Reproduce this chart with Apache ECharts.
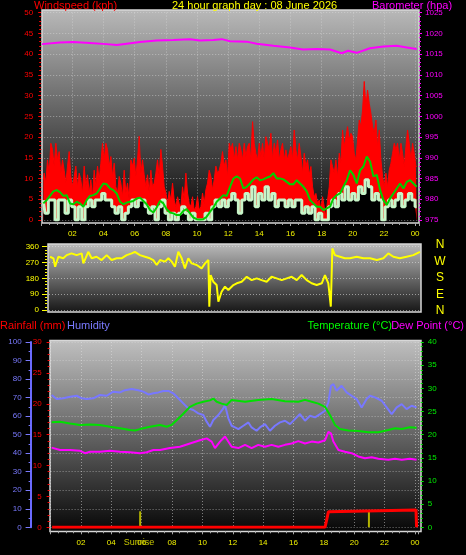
<!DOCTYPE html>
<html><head><meta charset="utf-8">
<script src="https://cdn.jsdelivr.net/npm/echarts@6/dist/echarts.min.js"></script>
<style>html,body{margin:0;padding:0;background:#000;}#c{width:466px;height:555px;}</style>
</head><body><div id="c"></div>
<script>
// ---------------- DATA ----------------
const titleText = '24 hour graph day : 08 June 2026';
const hourLabels = ['02','04','06','08','10','12','14','16','18','20','22','00'];
const compassLabels = ['N','W','S','E','N'];

// wind readings (kph), regular samples starting at windStartHour
const windStartHour = 0.137;
const gustStepHour = 0.107;
const gustKph = [9.7,11.3,8.9,14.5,11.3,18.5,17,13,18.5,14.5,
16.5,11.3,14.5,12,8.9,13,16.5,10.5,8,10.5,
13,8,11.3,9.7,6.5,13,8,10.9,6.5,9.7,
5.6,12,8,13,9.7,13.7,18.5,14.5,18.5,17,
13,15.3,10.5,13.7,8,6.5,10.5,8.9,5.6,12,
6.5,8.9,4.8,14.5,13,14.9,10.5,14.5,20.2,11.3,
14.5,10.9,8,10.9,6.5,12,8,8.9,11.3,14.5,
10.5,17,13,8,6.5,4,6.9,4.8,8.9,4.8,
3.2,5.6,4,3.2,8,4.8,11.3,6.5,4,3.2,
5.6,2.4,3.2,5.6,2.4,3.2,6.5,4,7.3,8.9,
12,10.5,7.3,9.7,13,11.3,12,
13.7,16.5,13,14.5,10.5,18.5,17,18.5,14.5,17.7,
14.5,18.5,17,14.5,18.5,15.3,17.7,18.5,14.5,23.7,
18.5,16.1,14.5,18.5,15.3,18.5,14.5,20.1,18.5,16.9,
20.9,14.5,18.5,16.1,19.3,14.5,16.9,18.5,14.5,16.9,
14.5,16.1,17.7,14.5,21.7,16.9,14.5,18.5,15.3,11.3,
16.1,12.9,14.5,10.9,12.9,8,5.6,6.4,4,4.8,
2.4,5.6,3.2,0.8,4.8,8,14.5,12.9,11.3,14.5,
10.5,16.1,13.7,21.7,17.7,20.1,22.5,19.3,20.9,20.1,
16.1,14.5,19.3,24.1,22.5,26.5,33.4,27.3,31.3,28.1,
25.7,22.5,20.9,24.1,17.7,21.7,14.5,10.5,8,11.3,
8,12,13.7,16.1,18.5,16.9,18.5,14.5,18.5,16.1,
12.9,17.7,21.7,18.5,14.5,18.5,16.1,12.9];

const speedStepHour = 0.214;
const speedKph = [4.8,1.6,4.8,4.8,0,4.8,4.8,1.6,4.8,3.2,
0,3.2,0,3.2,4.8,3.2,4.8,4.8,6.4,4.8,
4.8,3.2,1.6,3.2,0,1.6,3.2,4.8,3.2,4.8,
4.8,3.2,1.6,3.2,0,3.2,4.8,1.6,0,1.6,
0,1.6,3.2,1.6,0,1.6,0,0,0,1.6,
0,3.2,4.8,3.2,
4.8,3.2,4.8,6.4,4.8,1.6,4.8,6.4,4.8,8,
3.2,6.4,4.8,8,4.8,6.4,3.2,4.8,4.8,3.2,
4.8,3.2,4.8,4.8,1.6,3.2,1.6,3.2,0,1.6,
0,0,3.2,4.8,3.2,6.4,4.8,8,4.8,6.4,
4.8,8,6.4,9.7,8,4.8,6.4,4.8,0,3.2,
4.8,3.2,4.8,6.4,3.2,4.8,6.4,4.8,3.2];

const avgKph = [4,4.8,5.8,6.9,7.2,6.7,5.8,6,4,3.8,
4.4,4,3.2,4.8,5.8,6,6.4,7.6,8.8,8.6,
7.6,7.2,6.4,4.4,3.8,4.2,4.4,4.6,5.2,5.4,
4.6,3.8,2.4,1.8,3,4.6,4,2.6,1.8,1.6,
1.2,1.2,2.2,2.6,1.6,0.6,0.2,0.1,0.2,0.8,
2,3,4.4,5.2,
6,5.8,8,10,10.5,10,7.6,8,8.8,9.8,
10.3,9.6,9.8,10.2,10.5,11.3,10,10,9.8,9.2,
8.6,8.6,9.6,8.8,8,6.9,4.8,4,3.2,3.2,
2.4,2.8,3.2,5.2,6,6.4,8,9.6,12,10.9,
8.8,12,12.9,15.3,14.1,10.5,10.9,7.2,4.8,3.6,
5.2,6.4,7.6,8.8,7.6,9.2,9.6,8.8,8];

// barometer [hour, hPa]
const barometer = [[0.05,1017.4],[1.2,1017.8],[2.05,1017.9],[3.13,1017.7],[4.2,1017.4],[4.85,1017.2],[5.49,1017.5],[6.34,1017.9],[7.41,1018.3],[8.48,1018.4],[9.55,1018.6],[10.19,1018.3],[11.05,1018.4],[11.59,1018.6],[12.12,1018.1],[13.19,1018.0],[13.83,1017.5],[14.9,1017.0],[15.97,1016.6],[16.8,1016.1],[17.7,1016.2],[18.54,1016.1],[19.29,1015.2],[19.7,1015.8],[20.25,1015.3],[21.1,1016.4],[21.96,1016.8],[22.82,1017.0],[23.46,1016.6],[24.1,1016.2]];

// wind direction [hour, degrees]
const windDir = [[0.07,303],[0.29,294],[0.40,246],[0.61,303],[0.93,294],[1.15,312],[1.47,322],[1.80,312],[2.13,322],[2.24,265],[2.56,331],[2.78,294],[3.10,303],[3.43,284],[3.76,312],[4.08,284],[4.41,294],[4.73,294],[5.06,312],[5.39,322],[5.60,331],[5.93,312],[6.26,303],[6.58,294],[6.80,284],[7.02,256],[7.24,284],[7.56,275],[7.78,294],[8.0,275],[8.21,246],[8.43,331],[8.65,294],[8.86,237],[9.08,294],[9.30,265],[9.63,256],[9.95,237],[10.17,265],[10.39,284],[10.45,19],[10.54,199],[10.71,161],[10.93,142],[11.04,47],[11.25,104],[11.47,133],[11.69,114],[12.02,142],[12.24,152],[12.56,161],[12.89,189],[13.21,170],[13.54,180],[13.86,170],[14.19,161],[14.51,189],[14.84,180],[15.17,170],[15.50,180],[15.82,189],[16.15,170],[16.47,199],[16.80,170],[17.12,152],[17.45,142],[17.78,152],[17.99,199],[18.21,152],[18.37,19],[18.47,350],[18.64,312],[18.97,303],[19.29,294],[19.62,294],[20.06,303],[20.49,294],[20.93,294],[21.37,284],[21.80,294],[22.12,322],[22.45,303],[22.87,294],[23.31,303],[23.75,312],[24.18,331]];

// humidity [hour, %]
const humidity = [[0.07,71.4],[0.40,69.2],[0.84,69.6],[1.28,70.5],[1.72,71],[2.05,69.6],[2.38,69.2],[2.81,69.6],[3.25,71.4],[3.69,71],[4.13,73.2],[4.57,72.8],[4.9,74],[5.34,74.6],[5.78,74],[6.11,73.2],[6.44,71.7],[6.77,72.3],[7.1,72.8],[7.43,73.6],[7.76,73.6],[8.08,72.3],[8.41,69.6],[8.74,66.9],[9.07,64.2],[9.4,63.3],[9.73,61.5],[10.06,60.6],[10.28,57],[10.5,54.3],[10.72,57.9],[11.05,60.6],[11.38,64.2],[11.49,66],[11.71,58.8],[11.93,54.8],[12.15,53.9],[12.37,53],[12.7,54.8],[13.03,56.6],[13.24,53.9],[13.57,52.1],[13.79,53.9],[14.12,55.7],[14.45,52.1],[14.78,54.8],[15.11,56.6],[15.44,57.5],[15.77,55.7],[16.1,58.4],[16.43,61.1],[16.76,57.5],[17.09,60.2],[17.42,59.3],[17.75,61.1],[18.08,62.9],[18.3,67.4],[18.47,76.4],[18.63,77.3],[18.84,73.7],[19.17,76.4],[19.5,72.8],[19.83,71],[20.16,69.2],[20.49,64.7],[20.82,69.2],[21.04,71],[21.37,70.1],[21.81,68.3],[22.14,64.7],[22.47,61.1],[22.8,64.7],[23.13,66.5],[23.45,63.8],[23.78,65.6],[24.11,64.7]];

// temperature [hour, °C]
const temperature = [[0.07,22.7],[0.62,22.8],[1.28,22.4],[1.94,22.1],[2.6,22.2],[3.25,22.1],[3.91,21.7],[4.57,21.4],[5.23,21.0],[5.56,20.9],[5.89,21.2],[6.55,21.7],[7.21,22.1],[7.65,21.7],[7.97,22.1],[8.3,23.1],[8.74,24.5],[9.18,26],[9.62,26.7],[10.06,27.1],[10.5,27.4],[10.72,27.8],[10.94,27.1],[11.27,26.7],[11.6,26.4],[11.93,27.5],[12.81,27.1],[13.68,27.5],[14.56,27.7],[15.44,27.2],[16.32,27.1],[16.76,27.5],[17.2,27.1],[17.64,26.7],[18.08,26],[18.41,24.2],[18.74,22.1],[19.06,21.2],[19.61,20.9],[20.27,20.8],[20.93,20.5],[21.59,20.5],[22.25,21],[22.69,21.4],[23.13,21.2],[23.67,21.6],[24.11,21.5]];

// dew point [hour, °C]
const dewPoint = [[0.07,17.2],[0.62,16.7],[1.28,16.7],[1.94,16.5],[2.27,16],[2.6,16.3],[3.25,16.3],[3.91,16.5],[4.57,16.3],[5.23,16.2],[5.89,16],[6.33,16.2],[6.77,16.7],[7.21,16.7],[7.86,17.1],[8.52,17.4],[9.18,18.1],[9.84,18.8],[10.28,19.2],[10.61,18.5],[10.83,17.1],[11.16,18.5],[11.49,19.6],[11.93,17.4],[12.37,17.1],[12.81,17.8],[13.24,17.1],[13.68,17.8],[14.12,17.4],[14.56,17.8],[15.0,17.4],[15.44,17.8],[15.88,18.1],[16.32,18.6],[16.76,18.1],[17.2,18.5],[17.64,18.3],[18.08,18.8],[18.3,20.6],[18.47,20.3],[18.63,18.5],[18.96,16.7],[19.39,16.3],[19.83,16],[20.27,15.3],[20.71,14.9],[21.15,15.1],[21.59,14.8],[22.25,14.6],[22.69,14.8],[23.13,14.6],[23.67,14.8],[24.11,14.6]];

// rainfall total [hour, mm]
const rainfall = [[0.1,0],[18.08,0],[18.3,2.5],[18.41,2.8],[24.07,2.8],[24.11,0]];

// sunrise / sunset hours
const sunTimes = [5.9, 20.97];
const sunriseLabel = 'Sunrise';

// ---------------- CHART ----------------
const chart = echarts.init(document.getElementById('c'), null, {renderer:'canvas'});
const FONT = '"Liberation Sans", Arial, sans-serif';
const gridLine = {show:true, lineStyle:{color:'rgba(225,225,225,0.5)', width:1, type:[1,2]}};
const X_MAX = 24.25;

function hourFmt(v){
  if (Math.abs(v - Math.round(v)) > 1e-6) return '';
  const r = Math.round(v);
  if (r % 2 !== 0) return '';
  const i = r / 2 - 1;
  return (i >= 0 && i < hourLabels.length) ? hourLabels[i] : '';
}
function xAxisCfg(gi, showLabels, offset, split){
  return {
    type:'value', gridIndex:gi, min:0, max:X_MAX, interval:2, offset:offset,
    axisLine:{show:false, onZero:false},
    axisTick:{show:showLabels, length:3, lineStyle:{color:'#a8a8a8'}},
    minorTick:{show:showLabels, splitNumber:4, length:2, lineStyle:{color:'#a8a8a8'}},
    axisLabel:{show:showLabels, formatter:hourFmt, color:'#f0f000', fontSize:8, fontFamily:FONT, margin:7},
    splitLine: split ? gridLine : {show:false}
  };
}
function yAxisCfg(o){
  return Object.assign({
    type:'value', axisLine:{show:false, onZero:false},
    axisTick:{show:true, length:3, lineStyle:{color:o.color}},
    minorTick:{show:true, splitNumber:o.minor||5, length:2, lineStyle:{color:o.color}},
    axisLabel:{color:o.color, fontSize:8, fontFamily:FONT, margin:o.margin||7, formatter:function(v){return String(v);}},
    splitLine:{show:false}
  }, o.extra);
}

const gustData = gustKph.map((v,i)=>[windStartHour + i*gustStepHour, v]);
const speedData = speedKph.map((v,i)=>[windStartHour + i*speedStepHour, v]);
const avgData = avgKph.map((v,i)=>[windStartHour + i*speedStepHour, v]);

function bgGrad(top, bottom){
  return new echarts.graphic.LinearGradient(0,0,0,1,[{offset:0,color:top},{offset:1,color:bottom}]);
}
const graphics = [
  {type:'rect', z:-1, shape:{x:42,y:10,width:377,height:213}, style:{fill:bgGrad('#b9b9b9','#050505'), stroke:'#d8d8d8', lineWidth:1.5}, silent:true},
  {type:'rect', z:-1, shape:{x:48,y:244,width:373,height:68}, style:{fill:bgGrad('#bcbcbc','#151515'), stroke:'#d8d8d8', lineWidth:1.5}, silent:true},
  {type:'rect', z:-1, shape:{x:50,y:340.5,width:371,height:191}, style:{fill:bgGrad('#c0c0c0','#060606'), stroke:'#d8d8d8', lineWidth:1.5}, silent:true}
];
function txt(t, x, y, color, align, size){
  return {type:'text', z:100, silent:true, style:{text:t, x:x, y:y, fill:color, font:(size||11)+'px '+FONT, textAlign:align||'left', textVerticalAlign:'middle', align:align||'left', verticalAlign:'middle'}};
}
graphics.push(txt('Windspeed (kph)', 34, 6, '#ff0000'));
graphics.push(txt(titleText, 172, 6, '#ffff00'));
graphics.push(txt('Barometer (hpa)', 372, 6, '#ff00ff'));
const compassY = [245, 261.5, 278, 294.5, 311];
compassLabels.forEach((c,i)=>graphics.push(txt(c, 440, compassY[i], '#ffff00', 'center', 12)));
graphics.push(txt('Rainfall (mm)', 0, 326, '#ff0000'));
graphics.push(txt('Humidity', 67, 326, '#7a7aff'));
graphics.push(txt('Temperature (°C)', 392, 326, '#00ff00', 'right'));
graphics.push(txt('Dew Point (°C)', 464, 326, '#ff00ff', 'right'));
graphics.push(txt(sunriseLabel, 139, 543, '#c8c800', 'center', 9));

const option = {
  animation:false,
  backgroundColor:'#000',
  graphic:{elements:graphics},
  grid:[
    {left:41.2, top:12.6, width:X_MAX*15.58, height:207.4},
    {left:49, top:246.7, width:372, height:63.3},
    {left:50.6, top:342, width:X_MAX*15.18, height:185.3}
  ],
  xAxis:[
    xAxisCfg(0, true, 3, true),
    xAxisCfg(1, false, 0, false),
    xAxisCfg(2, true, 4, true)
  ],
  yAxis:[
    yAxisCfg({color:'#ff0000', margin:8, extra:{gridIndex:0, min:0, max:50, interval:5, position:'left', splitLine:gridLine}}),
    yAxisCfg({color:'#ff00ff', margin:6, extra:{gridIndex:0, min:975, max:1025, interval:5, position:'right'}}),
    yAxisCfg({color:'#ffff00', margin:8, extra:{gridIndex:1, min:0, max:360, interval:90, position:'left', offset:2,
      axisTick:{show:true,length:5,lineStyle:{color:'#ffff00'}},
      splitLine:{show:true, lineStyle:{color:'rgba(230,230,230,0.55)', type:[1,2]}}}}),
    yAxisCfg({color:'#7a7aff', margin:9, minor:2, extra:{gridIndex:2, min:0, max:100, interval:10, position:'left', offset:20,
      axisLine:{show:true, onZero:false, lineStyle:{color:'#6a6aff', width:2}},
      axisTick:{show:true,length:5,lineStyle:{color:'#7a7aff'}},
      splitLine:gridLine}}),
    yAxisCfg({color:'#ff0000', margin:8, extra:{gridIndex:2, min:0, max:30, interval:5, position:'left', offset:1}}),
    yAxisCfg({color:'#00ee00', margin:7, extra:{gridIndex:2, min:0, max:40, interval:5, position:'right', offset:2}})
  ],
  series:[
    {type:'line', name:'gust', xAxisIndex:0, yAxisIndex:0, data:gustData, step:'middle', symbol:'none', z:2,
     lineStyle:{color:'#ff0000', width:1}, areaStyle:{color:'#ff0000', opacity:1}},
    {type:'line', name:'speed', xAxisIndex:0, yAxisIndex:0, data:speedData, step:'middle', symbol:'none', z:3,
     lineStyle:{color:'#c8f5c8', width:3}, areaStyle:{color:'#000000', opacity:1}},
    {type:'line', name:'avg', xAxisIndex:0, yAxisIndex:0, data:avgData, symbol:'none', z:4,
     lineStyle:{color:'#00d000', width:2}},
    {type:'line', name:'baro', xAxisIndex:0, yAxisIndex:1, data:barometer, symbol:'none', z:5,
     lineStyle:{color:'#ff00ff', width:2}},
    {type:'line', name:'dir', xAxisIndex:1, yAxisIndex:2, data:windDir, symbol:'none', z:5,
     lineStyle:{color:'#ffff00', width:2}},
    {type:'line', name:'hum', xAxisIndex:2, yAxisIndex:3, data:humidity, symbol:'none', z:5,
     lineStyle:{color:'#7878ff', width:2}},
    {type:'line', name:'temp', xAxisIndex:2, yAxisIndex:5, data:temperature, symbol:'none', z:5,
     lineStyle:{color:'#00e000', width:2}},
    {type:'line', name:'dew', xAxisIndex:2, yAxisIndex:5, data:dewPoint, symbol:'none', z:5,
     lineStyle:{color:'#ff00ff', width:2}},
    {type:'line', name:'rain', xAxisIndex:2, yAxisIndex:4, data:rainfall, symbol:'none', z:6,
     lineStyle:{color:'#ff0000', width:3}},
    {type:'custom', name:'sun', xAxisIndex:2, yAxisIndex:4, data:sunTimes.map(h=>[h,0]), z:6,
     renderItem:function(params, api){
       const p = api.coord([api.value(0), 0]);
       return {type:'line', shape:{x1:p[0], y1:p[1], x2:p[0], y2:p[1]-16}, style:{stroke:'#b4b400', lineWidth:2}};
     }}
  ]
};
chart.setOption(option);
</script>
</body></html>
